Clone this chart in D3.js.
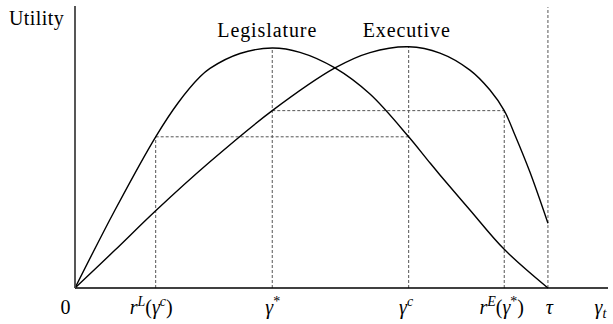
<!DOCTYPE html>
<html>
<head>
<meta charset="utf-8">
<script src="https://cdn.jsdelivr.net/npm/d3@7"></script>
<style>
  html, body { margin: 0; padding: 0; background: #fff; }
  svg { display: block; }
  svg text { font-family: "Liberation Serif", "Times New Roman", serif !important; fill: #000; }
</style>
</head>
<body>
<svg id="chart" width="613" height="324"></svg>
<script>
// Position on the policy axis (0 .. tau = 100) and utility (peak ~ 100)
const legislatureX = [0, 8.46, 17.06, 21.78, 26.43, 28.54, 34.88, 41.71, 47.57, 54.97, 62.37, 70.55, 74.57, 77.17, 83.51, 90.76, 100];
const legislatureU = [0, 32.5, 63.0, 77.1, 88.0, 91.5, 97.7, 100, 98.2, 91.7, 80.8, 63.0, 53.3, 47.1, 32.5, 16.1, 0];

const executiveX = [0, 8.46, 17.06, 28.54, 41.71, 54.97, 62.37, 70.55, 77.17, 83.51, 87.74, 90.76, 93.02, 96.19, 100];
const executiveU = [0, 15.8, 32.2, 52.6, 73.9, 91.7, 98.1, 100.5, 97.9, 90.8, 82.5, 73.9, 63.75, 48.3, 27.0];

// Key points on the axis
const rL = 17.06, gStar = 41.71, gC = 70.55, rE = 90.76, tau = 100;
const tickValues = [0, rL, gStar, gC, rE, tau, 111];
const tickLabels = [
  [["0", "n"]],
  [["r", "i"], ["L", "sup"], ["(", "n"], ["γ", "i"], ["c", "sup"], [")", "n"]],
  [["γ", "i"], ["*", "supn"]],
  [["γ", "i"], ["c", "sup"]],
  [["r", "i"], ["E", "sup"], ["(", "n"], ["γ", "i"], ["*", "supn"], [")", "n"]],
  [["τ", "i"]],
  [["γ", "i"], ["t", "sub"]]
];
// horizontal nudges of each label relative to its tick
const tickNudge = [-10, -5, 0, -3, -3, 1, 0];

// Utility levels for the guide lines
const uLegAtRL = 63.0;   // L(r^L(γ^c)) = L(γ^c)
const uExeAtStar = 73.9; // E(γ*) = E(r^E(γ*))
const uLegPeak = 100, uExePeak = 100.5;

const svg = d3.select("#chart");
const x = d3.scaleLinear().domain([0, 112.7]).range([75, 608]);
const y = d3.scaleLinear().domain([0, 117.5]).range([288, 6]);
const FS = 20;

// Dashed guide lines
const guides = [
  [rL, 0, rL, uLegAtRL],
  [gStar, 0, gStar, uLegPeak],
  [gC, 0, gC, uExePeak],
  [rE, 0, rE, uExeAtStar],
  [tau, 0, tau, 117],
  [rL, uLegAtRL, gC, uLegAtRL],
  [gStar, uExeAtStar, rE, uExeAtStar]
];
svg.append("g").selectAll("line").data(guides).join("line")
  .attr("x1", d => x(d[0])).attr("y1", d => y(d[1]))
  .attr("x2", d => x(d[2])).attr("y2", d => y(d[3]))
  .attr("stroke", "#555").attr("stroke-width", 1)
  .attr("stroke-dasharray", "3,2");

// Curves
const line = d3.line().x(d => x(d[0])).y(d => y(d[1])).curve(d3.curveCatmullRom.alpha(0.5));
const leg = legislatureX.map((v, i) => [v, legislatureU[i]]);
const exe = executiveX.map((v, i) => [v, executiveU[i]]);
svg.append("path").datum(leg).attr("d", line)
  .attr("fill", "none").attr("stroke", "#000").attr("stroke-width", 1.4);
svg.append("path").datum(exe).attr("d", line)
  .attr("fill", "none").attr("stroke", "#000").attr("stroke-width", 1.4);

// Axes
const xAxis = d3.axisBottom(x).tickValues(tickValues).tickSize(0).tickFormat(() => "");
const gx = svg.append("g").attr("transform", `translate(0,${y(0)})`).call(xAxis)
  .attr("font-family", null).attr("font-size", null);
gx.select(".domain").attr("stroke", "#000").attr("stroke-width", 1.6).attr("d", `M${x(0)},0H${x(112.7)}`);
gx.selectAll(".tick text").each(function(d, i) {
  const t = d3.select(this)
    .attr("x", tickNudge[i])
    .attr("y", 26).attr("dy", null)
    .attr("font-size", FS)
    .attr("text-anchor", "middle");
  t.text(null);
  let shift = 0;
  tickLabels[i].forEach(([s, k]) => {
    const sp = t.append("tspan").text(s);
    let dy = 0, fs = FS, ital = false;
    if (k === "i") ital = true;
    if (k === "sup") { fs = 14; ital = true; dy = -8; }
    if (k === "supn") { fs = 14; dy = -8; }
    if (k === "sub") { fs = 14; ital = true; dy = 4; }
    sp.attr("font-size", fs).attr("font-style", ital ? "italic" : "normal")
      .attr("dy", dy - shift);
    shift = dy;
  });
});

const gy = svg.append("g").attr("transform", `translate(${x(0)},0)`)
  .call(d3.axisLeft(y).tickValues([]).tickSize(0));
gy.select(".domain").attr("stroke", "#444").attr("stroke-width", 1.8).attr("d", `M0,${y(0)}V${y(117.5)}`);

// Titles
svg.append("text").attr("x", 9).attr("y", 25).attr("font-size", FS)
  .attr("letter-spacing", 0.4).text("Utility");
svg.append("text").attr("x", x(gStar) - 5).attr("y", 36.5).attr("text-anchor", "middle")
  .attr("font-size", FS).attr("letter-spacing", 0.9).text("Legislature");
svg.append("text").attr("x", x(gC) - 2).attr("y", 36.5).attr("text-anchor", "middle")
  .attr("font-size", FS).attr("letter-spacing", 0.9).text("Executive");
</script>
</body>
</html>
